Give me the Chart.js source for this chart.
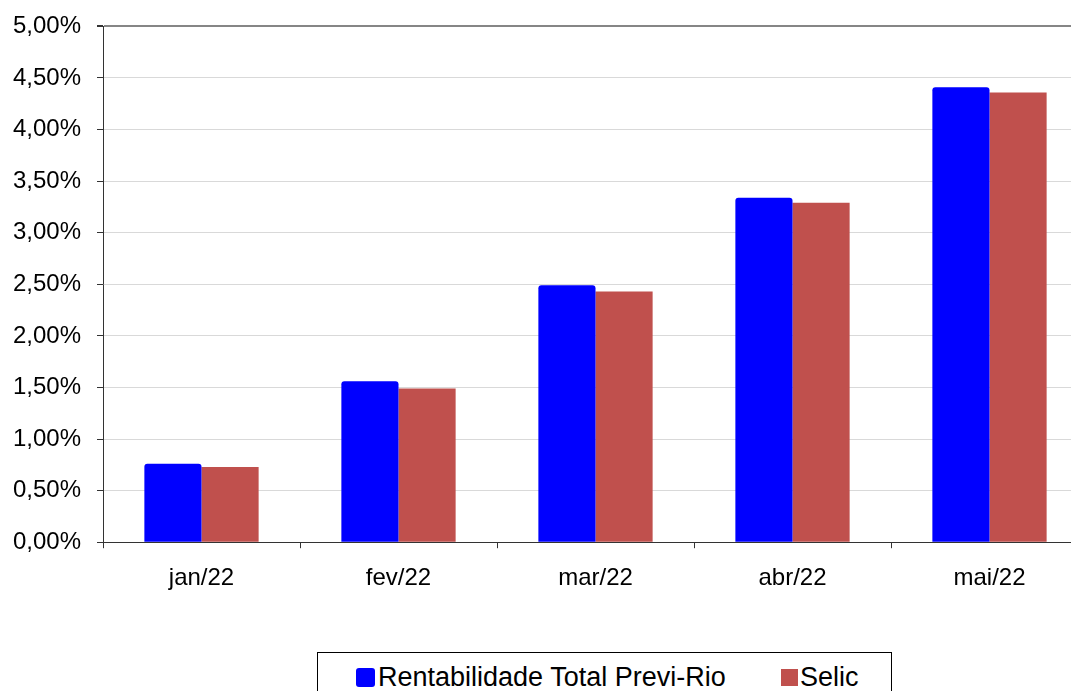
<!DOCTYPE html>
<html lang="pt-BR">
<head>
<meta charset="utf-8">
<title>Rentabilidade Previ-Rio x Selic</title>
<script src="https://cdn.jsdelivr.net/npm/chart.js@4.4.1/dist/chart.umd.min.js"></script>
<style>
  html, body { margin: 0; padding: 0; background: #fff; overflow: hidden; width: 1071px; height: 691px; }
  #wrap { position: relative; width: 1090px; height: 691px; }
  #grafico { position: absolute; left: 0; top: -4px; }
  #legenda {
    position: absolute; left: 317px; top: 652px; width: 575px; height: 60px;
    border: 1px solid #000; box-sizing: border-box;
    font-family: "Liberation Sans", Arial, sans-serif; font-size: 27px; color: #000;
  }
  .item { position: absolute; top: 9px; display: flex; align-items: center; line-height: 31px; }
  .cx { display: inline-block; }
</style>
</head>
<body>
<div id="wrap">
  <canvas id="grafico" width="1090" height="621"></canvas>
  <div id="legenda">
    <div class="item" style="left:38px"><span class="cx" style="width:19px;height:19px;margin-right:3px;background:#0000FF;border-radius:3px"></span>Rentabilidade Total Previ-Rio</div>
    <div class="item" style="left:463px"><span class="cx" style="width:17px;height:17px;margin-right:2px;background:#C0504D"></span>Selic</div>
  </div>
</div>
<script>
const meses = ["jan/22", "fev/22", "mar/22", "abr/22", "mai/22"];
const previRio = [0.76, 1.56, 2.49, 3.34, 4.41];
const selic = [0.73, 1.49, 2.43, 3.29, 4.36];

const fonte = { family: "'Liberation Sans', Arial, sans-serif", size: 24 };

const ctx = document.getElementById('grafico').getContext('2d');
const chart = new Chart(ctx, {
  type: 'bar',
  data: {
    labels: meses,
    datasets: [
      {
        label: 'Rentabilidade Total Previ-Rio',
        data: previRio,
        backgroundColor: '#0000FF',
        borderRadius: { topLeft: 3, topRight: 3 },
        borderSkipped: 'bottom'
      },
      {
        label: 'Selic',
        data: selic,
        backgroundColor: '#C0504D'
      }
    ]
  },
  options: {
    responsive: false,
    animation: false,
    layout: { padding: { top: 22, right: 2, left: 0, bottom: 8 } },
    datasets: { bar: { categoryPercentage: 0.58, barPercentage: 1.0 } },
    plugins: {
      legend: { display: false },
      tooltip: { enabled: false }
    },
    scales: {
      x: {
        grid: { offset: true, drawOnChartArea: false, drawTicks: true, tickLength: 6, tickColor: '#333' },
        border: { color: '#333', width: 1 },
        ticks: { color: '#000', font: fonte, padding: 16 }
      },
      y: {
        min: 0,
        max: 5,
        afterFit: (s) => { s.width = 103; },
        grid: {
          color: (c) => c.tick && c.tick.value === 5 ? '#868686' : '#d9d9d9',
          lineWidth: (c) => c.tick && c.tick.value === 5 ? 2 : 1,
          tickLength: 6,
          tickColor: '#333'
        },
        border: { color: '#333', width: 1 },
        ticks: {
          stepSize: 0.5,
          color: '#000',
          font: fonte,
          padding: 16,
          callback: (v) => v.toFixed(2).replace('.', ',') + '%'
        }
      }
    }
  }
});
</script>
</body>
</html>
